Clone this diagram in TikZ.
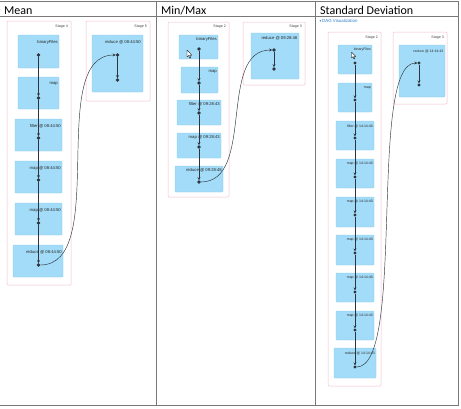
\documentclass[tikz,border=0pt]{standalone}
\usepackage{fontspec}
\setmainfont{Carlito}
\newfontfamily\uifont{Liberation Sans}
\newfontfamily\symfont{DejaVu Sans}
\usetikzlibrary{arrows.meta}
\definecolor{boxfill}{RGB}{163,220,248}
\definecolor{boxline}{RGB}{135,203,240}
\definecolor{stageline}{RGB}{244,190,205}
\definecolor{gridline}{RGB}{120,120,120}
\definecolor{dotcol}{RGB}{45,52,60}
\definecolor{linkblue}{RGB}{40,120,200}
\begin{document}
\begin{tikzpicture}[x=1pt,y=-1pt,
  opbox/.style={draw=boxline, fill=boxfill, line width=0.3pt, rounded corners=0.8pt, anchor=north west, inner sep=0pt, outer sep=0pt},
  stagebox/.style={draw=stageline, fill=white, line width=0.5pt, rounded corners=1pt, anchor=north west, inner sep=0pt, outer sep=0pt},
  oplabel/.style={font=\uifont\fontsize{4.2}{4.2}\selectfont, text=black!85, anchor=east, inner sep=0pt},
  smalllabel/.style={font=\uifont\fontsize{3.5}{3.5}\selectfont, text=black!85, anchor=east, inner sep=0pt},
  stagelabel/.style={font=\uifont\fontsize{3.6}{3.6}\selectfont, text=black!75, anchor=east, inner sep=0pt},
  dagdot/.style={circle, fill=dotcol, minimum size=3.6pt, inner sep=0pt, outer sep=0pt},
  smalldot/.style={circle, fill=dotcol, minimum size=3.1pt, inner sep=0pt, outer sep=0pt},
  dagedge/.style={draw=dotcol, line width=0.6pt, -{Stealth[length=3pt,width=3pt]}},
  crossedge/.style={draw=dotcol, line width=0.45pt, -{Stealth[length=3pt,width=3pt]}},
  header/.style={font=\fontsize{12}{14}\selectfont, anchor=base west, inner sep=0pt},
  grid/.style={draw=gridline, line width=0.8pt},
  cursor/.style={draw=black, fill=white, line width=0.3pt, line join=round}
]
\useasboundingbox (0,0) rectangle (461,408);

% ---------- table ----------
\draw[grid] (0,1) -- (458,1) -- (458,405) -- (0,405);
\draw[grid] (0,16) -- (458,16);
\draw[grid] (156.5,1) -- (156.5,405);
\draw[grid] (315,1) -- (315,405);
\node[header] (hmean) at (4,14) {Mean};
\node[header] (hminmax) at (161,14) {Min/Max};
\node[header] (hstd) at (320,14) {Standard Deviation};

% ---------- Mean ----------
\node[stagebox, minimum width=64pt, minimum height=264pt] (ms1) at (7,21) {};
\node[stagebox, minimum width=64pt, minimum height=80pt] (ms2) at (86,21) {};
\node[stagelabel] at (68,27) {Stage 4};
\node[stagelabel] at (147,27) {Stage 5};
\node[opbox, minimum width=41pt, minimum height=33pt] (mb1) at (18,35) {};
\node[opbox, minimum width=41pt, minimum height=32pt] (mb2) at (18,77) {};
\node[opbox, minimum width=47pt, minimum height=32pt] (mb3) at (15,119) {};
\node[opbox, minimum width=47pt, minimum height=32pt] (mb4) at (15,161) {};
\node[opbox, minimum width=47pt, minimum height=32pt] (mb5) at (15,203) {};
\node[opbox, minimum width=50pt, minimum height=32pt] (mb6) at (13,245) {};
\node[opbox, minimum width=51pt, minimum height=57pt] (mb7) at (92,35) {};
\node[oplabel] at ([xshift=-1pt,yshift=-7pt]mb1.north east) {binaryFiles};
\node[oplabel] at ([xshift=-1pt,yshift=-7pt]mb2.north east) {map};
\node[oplabel] at ([xshift=-1pt,yshift=-7pt]mb3.north east) {filter @ 08:44:50};
\node[oplabel] at ([xshift=-1pt,yshift=-7pt]mb4.north east) {map @ 08:44:50};
\node[oplabel] at ([xshift=-1pt,yshift=-7pt]mb5.north east) {map @ 08:44:50};
\node[oplabel] at ([xshift=-1pt,yshift=-7pt]mb6.north east) {reduce @ 08:44:50};
\node[oplabel] at ([xshift=-2pt,yshift=-7pt]mb7.north east) {reduce @ 08:44:50};
\node[dagdot] (md1) at (38.5,55) {};
\node[dagdot] (md2) at (38.5,98) {};
\node[dagdot] (md3) at (38.5,138) {};
\node[dagdot] (md4) at (38.5,180) {};
\node[dagdot] (md5) at (38.5,223) {};
\node[dagdot] (md6) at (38.5,265) {};
\node[dagdot] (md7) at (117.5,55) {};
\node[dagdot] (md8) at (117.5,80) {};
\draw[dagedge] (md1) -- (md2);
\draw[dagedge] (md2) -- (md3);
\draw[dagedge] (md3) -- (md4);
\draw[dagedge] (md4) -- (md5);
\draw[dagedge] (md5) -- (md6);
\draw[dagedge] (md7) -- (md8);
\draw[crossedge] (md6.east) .. controls +(70,0) and +(-70,0) .. (md7.west);

% ---------- Min/Max ----------
\node[stagebox, minimum width=61pt, minimum height=175pt] (ns1) at (168,22) {};
\node[stagebox, minimum width=62pt, minimum height=63pt] (ns2) at (243,22) {};
\node[stagelabel] at (226,27) {Stage 2};
\node[stagelabel] at (302,27) {Stage 3};
\node[opbox, minimum width=39pt, minimum height=24pt] (nb1) at (179,35) {};
\node[opbox, minimum width=37pt, minimum height=26pt] (nb2) at (181,67) {};
\node[opbox, minimum width=44pt, minimum height=25pt] (nb3) at (177,100) {};
\node[opbox, minimum width=44pt, minimum height=25pt] (nb4) at (177,133) {};
\node[opbox, minimum width=48pt, minimum height=26pt] (nb5) at (175,166) {};
\node[opbox, minimum width=48pt, minimum height=46pt] (nb6) at (251,33) {};
\node[oplabel] at ([xshift=-1pt,yshift=-4.5pt]nb1.north east) {binaryFiles};
\node[oplabel] at ([xshift=-1pt,yshift=-4.5pt]nb2.north east) {map};
\node[oplabel] at ([xshift=-1pt,yshift=-4.5pt]nb3.north east) {filter @ 09:28:43};
\node[oplabel] at ([xshift=-1pt,yshift=-4.5pt]nb4.north east) {map @ 09:28:43};
\node[oplabel] at ([xshift=-1pt,yshift=-4.5pt]nb5.north east) {reduce @ 09:28:48};
\node[oplabel] at ([xshift=-1.5pt,yshift=-5.5pt]nb6.north east) {reduce @ 09:28:48};
\node[dagdot] (nd1) at (199,49) {};
\node[dagdot] (nd2) at (199,83) {};
\node[dagdot] (nd3) at (199,113) {};
\node[dagdot] (nd4) at (199,147) {};
\node[dagdot] (nd5) at (199,182) {};
\node[dagdot] (nd6) at (274,50) {};
\node[dagdot] (nd7) at (274,69) {};
\draw[dagedge] (nd1) -- (nd2);
\draw[dagedge] (nd2) -- (nd3);
\draw[dagedge] (nd3) -- (nd4);
\draw[dagedge] (nd4) -- (nd5);
\draw[dagedge] (nd6) -- (nd7);
\draw[crossedge] (nd5.east) .. controls +(55,0) and +(-55,0) .. (nd6.west);
\draw[cursor] (187,50) -- ++(0,7) -- ++(1.6,-1.5) -- ++(1.3,2.8) -- ++(1,-0.5) -- ++(-1.3,-2.7) -- ++(2.2,0) -- cycle;

% ---------- Standard Deviation ----------
\node[font=\uifont\fontsize{4.4}{4.4}\selectfont, text=linkblue, anchor=west, inner sep=0pt] (daglink) at (319.5,21) {{\symfont\fontsize{3.5}{3.5}\selectfont ▾}\,DAG Visualization};
\node[stagebox, minimum width=53pt, minimum height=354pt] (ss1) at (328,32) {};
\node[stagebox, minimum width=54pt, minimum height=72pt] (ss2) at (393,32) {};
\node[stagelabel] at (378,38) {Stage 2};
\node[stagelabel] at (444,38) {Stage 3};
\node[opbox, minimum width=34pt, minimum height=29pt] (sb1) at (338,45) {};
\node[opbox, minimum width=34pt, minimum height=29pt] (sb2) at (338,83) {};
\node[opbox, minimum width=38pt, minimum height=29pt] (sb3) at (336,121) {};
\node[opbox, minimum width=38pt, minimum height=29pt] (sb4) at (336,159) {};
\node[opbox, minimum width=38pt, minimum height=30pt] (sb5) at (336,197) {};
\node[opbox, minimum width=38pt, minimum height=30pt] (sb6) at (336,235) {};
\node[opbox, minimum width=38pt, minimum height=29pt] (sb7) at (336,273) {};
\node[opbox, minimum width=38pt, minimum height=29pt] (sb8) at (336,311) {};
\node[opbox, minimum width=42pt, minimum height=30pt] (sb9) at (334,348) {};
\node[opbox, minimum width=46pt, minimum height=52pt] (sb10) at (399,45) {};
\node[smalllabel] at ([xshift=-1pt,yshift=-5pt]sb1.north east) {binaryFiles};
\node[smalllabel] at ([xshift=-1pt,yshift=-5pt]sb2.north east) {map};
\node[smalllabel] at ([xshift=-1pt,yshift=-5pt]sb3.north east) {filter @ 14:14:40};
\node[smalllabel] at ([xshift=-1pt,yshift=-5pt]sb4.north east) {map @ 14:14:40};
\node[smalllabel] at ([xshift=-1pt,yshift=-5pt]sb5.north east) {map @ 14:14:40};
\node[smalllabel] at ([xshift=-1pt,yshift=-5pt]sb6.north east) {map @ 14:14:40};
\node[smalllabel] at ([xshift=-1pt,yshift=-5pt]sb7.north east) {map @ 14:14:40};
\node[smalllabel] at ([xshift=-1pt,yshift=-5pt]sb8.north east) {map @ 14:14:40};
\node[smalllabel] at ([xshift=-1pt,yshift=-5pt]sb9.north east) {reduce @ 14:14:43};
\node[smalllabel] at ([xshift=-1.5pt,yshift=-6pt]sb10.north east) {reduce @ 14:14:43};
\node[smalldot] (sd1) at (355,63) {};
\node[smalldot] (sd2) at (355,100) {};
\node[smalldot] (sd3) at (355,138) {};
\node[smalldot] (sd4) at (355,177) {};
\node[smalldot] (sd5) at (355,215) {};
\node[smalldot] (sd6) at (355,253) {};
\node[smalldot] (sd7) at (355,292) {};
\node[smalldot] (sd8) at (355,330) {};
\node[smalldot] (sd9) at (355,367) {};
\node[smalldot] (sd10) at (419,63) {};
\node[smalldot] (sd11) at (419,85) {};
\draw[dagedge] (sd1) -- (sd2);
\draw[dagedge] (sd2) -- (sd3);
\draw[dagedge] (sd3) -- (sd4);
\draw[dagedge] (sd4) -- (sd5);
\draw[dagedge] (sd5) -- (sd6);
\draw[dagedge] (sd6) -- (sd7);
\draw[dagedge] (sd7) -- (sd8);
\draw[dagedge] (sd8) -- (sd9);
\draw[dagedge] (sd10) -- (sd11);
\draw[crossedge] (sd9.east) .. controls +(50,0) and +(-50,0) .. (sd10.west);
\draw[cursor] (351.5,52) -- ++(0,6) -- ++(1.4,-1.3) -- ++(1.1,2.4) -- ++(0.9,-0.4) -- ++(-1.1,-2.3) -- ++(1.9,0) -- cycle;
\end{tikzpicture}
\end{document}
